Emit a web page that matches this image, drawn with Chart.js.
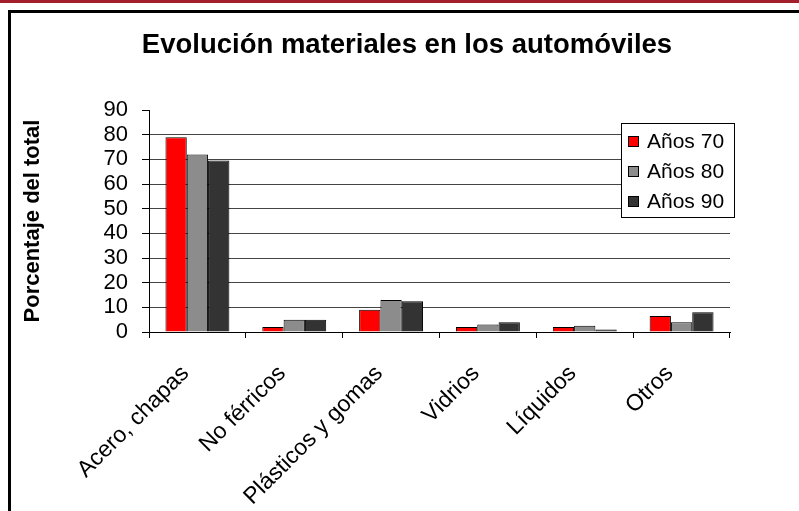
<!DOCTYPE html>
<html>
<head>
<meta charset="utf-8">
<script src="https://cdn.jsdelivr.net/npm/chart.js@4.4.1/dist/chart.umd.min.js"></script>
<style>
  html, body { margin: 0; padding: 0; background: #fff; }
  body { width: 799px; height: 511px; position: relative; overflow: hidden; }
  .franja { position: absolute; left: 0; top: 0; width: 799px; height: 3px; background: #a31f2b; }
  .marco { position: absolute; left: 8px; top: 10px; width: 820px; height: 520px; border-top: 3px solid #000; border-left: 3px solid #000; }
  #grafico { position: absolute; left: 0; top: 0; }
</style>
</head>
<body>
<div class="franja"></div>
<div class="marco"></div>
<canvas id="grafico" width="799" height="511"></canvas>
<script>
// datos
const categorias = ['Acero, chapas', 'No férricos', 'Plásticos y gomas', 'Vidrios', 'Líquidos', 'Otros'];
const series = ['Años 70', 'Años 80', 'Años 90'];
const anos70 = [79, 2, 9, 2, 2, 6.5];
const anos80 = [72, 5, 13, 3, 2.5, 4];
const anos90 = [69.5, 5, 12.5, 4, 1, 8];
const ticksY = [0, 10, 20, 30, 40, 50, 60, 70, 80, 90];
const titulo = 'Evolución materiales en los automóviles';
const tituloEje = 'Porcentaje del total';

const colores = ['#ff0000', '#8c8c8c', '#333333'];
const fuente = "'Liberation Sans', Arial, sans-serif";

Chart.defaults.font.family = fuente;
Chart.defaults.color = '#000';

// titulo centrado como en el original (no sobre el area del grafico)
const tituloPlugin = {
    id: 'titulo',
    afterDraw(chart) {
        const ctx = chart.ctx;
        ctx.save();
        ctx.font = 'bold 27.5px ' + fuente;
        ctx.fillStyle = '#000';
        ctx.textAlign = 'center';
        ctx.textBaseline = 'middle';
        ctx.fillText(titulo, 407, 45);
        ctx.restore();
    }
};

// leyenda con marco dentro del area del grafico
const leyendaPlugin = {
    id: 'leyenda',
    afterDraw(chart) {
        const ctx = chart.ctx;
        const area = chart.chartArea;
        const x = area.right - 109, y = area.top + 13, w = 113, h = 94;
        ctx.save();
        ctx.fillStyle = '#fff';
        ctx.fillRect(x, y, w, h);
        ctx.strokeStyle = '#000';
        ctx.lineWidth = 1;
        ctx.strokeRect(x + 0.5, y + 0.5, w, h);
        ctx.font = '21px ' + fuente;
        ctx.textBaseline = 'middle';
        chart.data.datasets.forEach((ds, i) => {
            const cy = y + 18 + i * 30;
            ctx.fillStyle = ds.backgroundColor;
            ctx.fillRect(x + 7, cy - 5, 11, 11);
            ctx.strokeRect(x + 7.5, cy - 4.5, 10, 10);
            ctx.fillStyle = '#000';
            ctx.fillText(ds.label, x + 26, cy + 1);
        });
        ctx.restore();
    }
};

const valores = [anos70, anos80, anos90];

new Chart(document.getElementById('grafico'), {
    type: 'bar',
    data: {
        labels: categorias,
        datasets: series.map((s, i) => ({
            label: s,
            data: valores[i],
            backgroundColor: colores[i],
            borderColor: '#000',
            borderWidth: 1,
            categoryPercentage: 0.66,
            barPercentage: 1
        }))
    },
    options: {
        responsive: false,
        animation: false,
        layout: { padding: { left: 14, right: 69, top: 110, bottom: 0 } },
        plugins: {
            legend: { display: false },
            tooltip: { enabled: false }
        },
        scales: {
            x: {
                grid: { drawOnChartArea: false, color: '#000', tickLength: 6, offset: true },
                border: { color: '#000' },
                ticks: {
                    font: { size: 23 },
                    minRotation: 45,
                    maxRotation: 45,
                    autoSkip: false,
                    padding: 22,
                    labelOffset: -12
                },
                afterFit(scale) { scale.height = 179; }
            },
            y: {
                min: ticksY[0],
                max: ticksY[ticksY.length - 1],
                afterBuildTicks(scale) { scale.ticks = ticksY.map(v => ({ value: v })); },
                ticks: { font: { size: 22 }, padding: 14, autoSkip: false },
                grid: {
                    color: c => (c.tick && c.tick.value === 90) ? 'rgba(0,0,0,0)' : '#444',
                    tickColor: '#000',
                    tickLength: 7
                },
                border: { color: '#000' },
                title: {
                    display: true,
                    text: tituloEje,
                    font: { size: 22, weight: 'bold' },
                    padding: { top: 6, bottom: 0 }
                },
                afterFit(scale) { scale.width = 135; }
            }
        }
    },
    plugins: [tituloPlugin, leyendaPlugin]
});
</script>
</body>
</html>
